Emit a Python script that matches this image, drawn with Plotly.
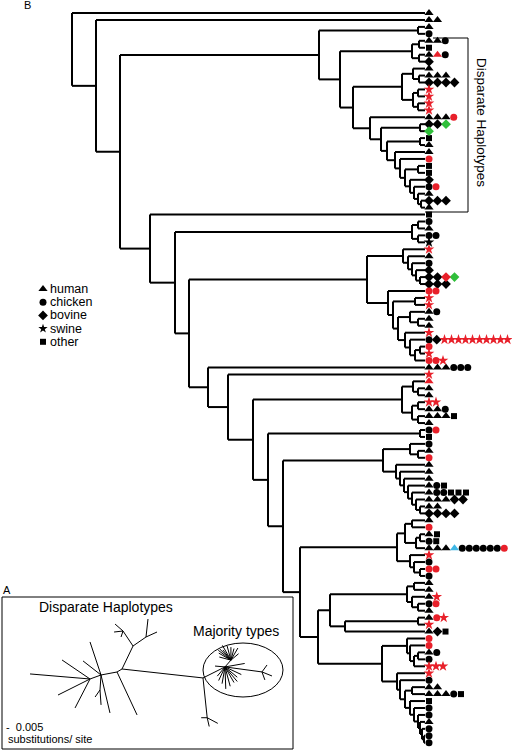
import math
import plotly.graph_objects as go

# ---------------- data ----------------
# host tokens per leaf row (top to bottom)
# h human, c chicken, b bovine, s swine, o other ; upper case = red ; g = green bovine ; t = blue human
leaf_hosts = [
    "h", "hh", "h", "c", "hhc", "o", "hHc", "b", "h", "hhh",
    "bbbb", "S", "S", "S", "S", "hhhC", "bbg", "g", "o", "h",
    "h", "C", "o", "o", "b", "cC", "h", "bbb", "h", "o",
    "c", "h", "cc", "s", "S", "h", "c", "b", "bbBg", "bbb",
    "CC", "S", "S", "hc", "h", "h", "S", "cb" + "S" * 10, "C", "S",
    "CCS", "hhhccc", "S", "H", "h", "h", "SS", "hhc", "hhho", "h",
    "cC", "o", "c", "h", "C", "h", "h", "h", "hco", "hccooo",
    "hhhbb", "hh", "bbbb", "h", "C", "ho", "co", "hhht" + "c" * 6 + "C", "S", "c",
    "CC", "c", "h", "h", "hS", "cC", "h", "hCS", "S", "hbo",
    "C", "C", "hc", "c", "SSS", "S", "c", "hh", "hhhco", "o",
    "c", "c", "h", "c", "c", "c",
]

# cladogram: [node depth, children...]; integers are leaf rows (1-based)
clade_F = [383, [410, 63, [418, 64, 65]],
           [396, 66, [400, 67, [404, 68, [408, 69, [412, 70, [416, 71, [420, 72, 73]]]]]]]]
clade_H = [397, [405, [412, 74, 75], [416, [420, 76, 77], 78]], [410, 79, [414, 80, [420, 81, 82]]]]
clade_J = [407, [414, 83, 84], [412, 85, [418, 86, 87]]]
clade_L = [382, [407, 91, [410, 92, [414, [418, 93, 94], 95]]],
           [397, 96, [400, 97, [405, [412, 98, 99],
                                [410, 100, [414, 101, [418, 102, [420, 103, [422, 104, [424, 105, 106]]]]]]]]]]
clade_G = [300, clade_H, [318, [330, clade_J, [345, [418, 88, 89], 90]], clade_L]]
clade_D = [268, [420, 61, 62], [283, clade_F, clade_G]]
clade_C = [402, [413, 54, [418, 55, 56]], [412, [418, 57, 58], [418, 59, 60]]]
clade_mid = [189,
             [367, [403, 35, [408, 36, [412, 37, [416, 38, [420, 39, 40]]]]],
              [388, 41, [393, [415, 42, 43],
                         [398, [410, 44, [418, 45, 46]], [405, 47, [410, 48, [415, [420, 49, 50], 51]]]]]]],
             [208, 52, [228, 53, [253, clade_C, clade_D]]]]
clade_B = [150, 30, [175, [412, [418, 31, 32], [418, 33, 34]], clade_mid]]
clade_A = [319, [418, 3, 4],
           [340, [412, [419, 5, 6], [419, 7, 8]],
            [353, [402, [413, 9, [419, 10, 11]], [413, [418, 12, 13], [418, 14, 15]]],
             [370, 16,
              [381, [420, 17, 18],
               [387, [420, 19, 20],
                [395, 21, [400, 22, [405, [418, 23, 24],
                                     [410, 25, [414, 26, [418, 27, [421, 28, 29]]]]]]]]]]]]]
tree = [72, 1, [96, 2, [120, clade_A, clade_B]]]

legend_labels = ["human", "chicken", "bovine", "swine", "other"]
legend_codes = ["h", "c", "b", "s", "o"]

# unrooted tree of panel A: (node, parent, branch length, angle in degrees)
inset_root = (122, 669)
inset_edges = [
    ("P1", "P0", 81.5, -6.3), ("P2", "P1", 24.6, 26.6), ("P3", "P1", 40, -84),
    ("a1", "P3", 6, 180), ("a2", "P3", 12, -28), ("a3", "P3", 9, -77),
    ("P4", "P2", 37.3, -7.7), ("a4", "P4", 8.6, 54), ("a5", "P4", 10.8, -22), ("a6", "P4", 8.5, -70),
    ("Q1", "P2", 9, 49),
    ("m1", "Q1", 14, 150), ("m2", "Q1", 16, 135), ("m3", "Q1", 17, 120), ("m4", "Q1", 15, 105),
    ("m5", "Q1", 13, 90), ("m6", "Q1", 12, 75), ("m7", "Q1", 14, 60), ("m8", "Q1", 12, 165),
    ("m9", "Q1", 10, 40), ("m10", "Q1", 16, 142), ("m11", "Q1", 13, 128),
    ("n1", "P2", 18, -60), ("n2", "P2", 20, -75), ("n3", "P2", 22, -88), ("n4", "P2", 17, -100),
    ("n5", "P2", 15, -115), ("n6", "P2", 12, -130), ("n7", "P2", 16, -40), ("n8", "P2", 18, -25),
    ("n9", "P2", 20, 10), ("n10", "P2", 10, 175), ("n11", "P2", 19, -50),
    ("P5", "P0", 5.8, -149), ("d1", "P5", 47.4, -65),
    ("P6", "P0", 25.5, 64.4), ("P7", "P6", 18, 123.7),
    ("d2", "P7", 10.6, 138.8), ("d3", "P7", 9, 186.3), ("d4", "P7", 6.3, -108.4),
    ("P8", "P6", 15.8, 34.7), ("d5", "P8", 18.1, 83.7), ("d6", "P8", 12.1, 24.4),
    ("P9", "P5", 16.3, -169.4), ("d7", "P9", 34.8, 108.4), ("d8", "P9", 39, -76.7),
    ("d9", "P9", 22.8, 142),
    ("P10", "P9", 15, -93.8), ("d10", "P10", 8.6, -125), ("d11", "P10", 15, -86),
    ("P11", "P9", 11.7, -160), ("d12", "P11", 60.2, 175.2), ("d13", "P11", 33.8, 145.8),
    ("d14", "P11", 35.8, -153.4), ("d15", "P11", 32.6, -117.3),
]

# ---------------- layout helpers ----------------
ROW0, ROW_STEP, TIP_X = 13.0, 6.95, 425.0
FONT = "Liberation Sans, Arial, sans-serif"
xs, ys = [], []


def place(node):
    if isinstance(node, int):
        return TIP_X, ROW0 + (node - 1) * ROW_STEP
    depth = node[0]
    kids = [place(k) for k in node[1:]]
    for kx, ky in kids:
        xs.extend([depth, kx, None])
        ys.extend([ky, ky, None])
    xs.extend([depth, depth, None])
    ys.extend([kids[0][1], kids[-1][1], None])
    return depth, (kids[0][1] + kids[-1][1]) / 2


place(tree)

fig = go.Figure()
fig.add_trace(go.Scatter(x=xs, y=ys, mode="lines", line=dict(color="black", width=2),
                         hoverinfo="skip", showlegend=False))

RED, GREEN, BLUE = "#e8202a", "#2fbf3a", "#40b8e6"
style = {
    "h": ("triangle-up", "black", 8.5, 8), "H": ("triangle-up", RED, 8.5, 8), "t": ("triangle-up", BLUE, 8.5, 8),
    "c": ("circle", "black", 7, 7), "C": ("circle", RED, 7, 7),
    "b": ("diamond", "black", 8.5, 7.5), "B": ("diamond", RED, 8.5, 7.5), "g": ("diamond", GREEN, 8.5, 7.5),
    "s": ("star", "black", 7, 8), "S": ("star", RED, 7, 8),
    "o": ("square", "black", 7.5, 6),
}
groups = {}
for i, row in enumerate(leaf_hosts):
    y = ROW0 + i * ROW_STEP
    x = 429.0
    prev = None
    for tok in row:
        if prev is not None:
            x += (style[prev][2] + style[tok][2]) / 2
        groups.setdefault(tok, ([], []))
        groups[tok][0].append(x)
        groups[tok][1].append(y)
        prev = tok
for tok, (gx, gy) in groups.items():
    sym, col, _, size = style[tok]
    fig.add_trace(go.Scatter(x=gx, y=gy, mode="markers", hoverinfo="skip", showlegend=False,
                             marker=dict(symbol=sym, color=col, size=size, line=dict(width=0))))

# legend
LEG_X, LEG_Y0, LEG_STEP = 43, 289, 13.2
for k, (lab, code) in enumerate(zip(legend_labels, legend_codes)):
    sym, col, _, size = style[code]
    yy = LEG_Y0 + k * LEG_STEP
    fig.add_trace(go.Scatter(x=[LEG_X], y=[yy], mode="markers", hoverinfo="skip", showlegend=False,
                             marker=dict(symbol=sym, color="black", size=size - (1 if code == "s" else 0))))
    fig.add_annotation(x=LEG_X + 6, y=yy, text=lab, showarrow=False, xanchor="left", yanchor="middle",
                       borderpad=0, font=dict(size=12.5, color="black", family=FONT))

# disparate haplotypes bracket
fig.add_trace(go.Scatter(x=[433, 468, 468, 425], y=[38, 38, 212, 212], mode="lines",
                         line=dict(color="black", width=1), hoverinfo="skip", showlegend=False))
fig.add_annotation(x=482, y=122, text="Disparate Haplotypes", textangle=90, showarrow=False,
                   font=dict(size=13.5, color="black", family=FONT))

# panel labels
fig.add_annotation(x=27, y=5, text="B", showarrow=False, font=dict(size=11, color="black", family=FONT))
fig.add_annotation(x=7, y=590, text="A", showarrow=False, font=dict(size=11, color="black", family=FONT))

# inset panel A
fig.add_shape(type="rect", x0=2, x1=293, y0=597, y1=749, line=dict(color="black", width=1))
pos = {"P0": inset_root}
ix, iy = [], []
for name, par, L, ang in inset_edges:
    px, py = pos[par]
    nx = px + L * math.cos(math.radians(ang))
    ny = py - L * math.sin(math.radians(ang))
    pos[name] = (nx, ny)
    ix.extend([px, nx, None])
    iy.extend([py, ny, None])
fig.add_trace(go.Scatter(x=ix, y=iy, mode="lines", line=dict(color="black", width=1),
                         hoverinfo="skip", showlegend=False))
fig.add_shape(type="circle", x0=203, x1=283, y0=643, y1=697, line=dict(color="black", width=1))
fig.add_annotation(x=106, y=607, text="Disparate Haplotypes", showarrow=False,
                   font=dict(size=14, color="black", family=FONT))
fig.add_annotation(x=236, y=631, text="Majority types", showarrow=False,
                   font=dict(size=14, color="black", family=FONT))
fig.add_annotation(x=5, y=727, text="-  0.005", showarrow=False, xanchor="left", borderpad=0,
                   font=dict(size=11, color="black", family=FONT))
fig.add_annotation(x=7, y=738.5, text="substitutions/ site", showarrow=False, xanchor="left", borderpad=0,
                   font=dict(size=11, color="black", family=FONT))

fig.update_layout(
    width=512, height=751, margin=dict(l=0, r=0, t=0, b=0),
    paper_bgcolor="white", plot_bgcolor="white",
    xaxis=dict(range=[0, 512], visible=False, fixedrange=True),
    yaxis=dict(range=[751, 0], visible=False, fixedrange=True),
)
fig.write_html("out.html", config={"displayModeBar": False},
               post_script="document.body.style.margin='0px';document.body.style.overflow='hidden';")
